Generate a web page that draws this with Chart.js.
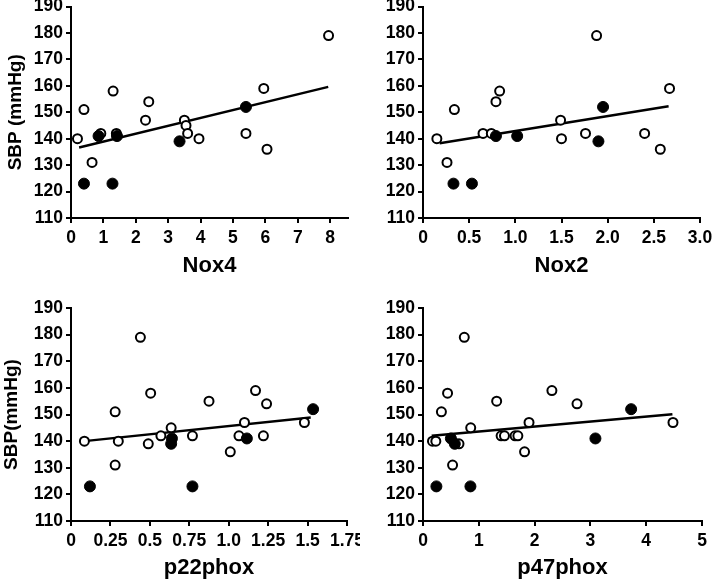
<!DOCTYPE html>
<html>
<head>
<meta charset="utf-8">
<script src="https://cdn.jsdelivr.net/npm/chart.js@4.4.1/dist/chart.umd.min.js"></script>
<style>
  html, body { margin: 0; padding: 0; background: #fff; }
  #wrap { position: relative; width: 714px; height: 583px; overflow: hidden; }
  canvas { position: absolute; }
</style>
</head>
<body>
<div id="wrap">
  <canvas id="nox4" width="360" height="290" style="left:0;top:0"></canvas>
  <canvas id="nox2" width="354" height="290" style="left:360px;top:0"></canvas>
  <canvas id="p22" width="360" height="293" style="left:0;top:290px"></canvas>
  <canvas id="p47" width="354" height="293" style="left:360px;top:290px"></canvas>
</div>
<script>
// SBP axis, shared by all four panels
const sbpTicks = [110, 120, 130, 140, 150, 160, 170, 180, 190]

// Nox4
const nox4Open = [[0.2,140],[0.4,151],[0.65,131],[0.92,142],[1.3,158],[1.4,142],[2.3,147],[2.4,154],
  [3.5,147],[3.55,145],[3.6,142],[3.95,140],[5.4,142],[5.95,159],[6.05,136],[7.95,179]]
const nox4Filled = [[0.4,123],[0.85,141],[1.28,123],[1.42,141],[3.35,139],[5.4,152]]
const nox4Fit = [[0.25,136.7],[7.94,159.6]]
const nox4Ticks = [0, 1, 2, 3, 4, 5, 6, 7, 8]
const nox4Labels = ['0', '1', '2', '3', '4', '5', '6', '7', '8']

// Nox2
const nox2Open = [[0.15,140],[0.26,131],[0.34,151],[0.65,142],[0.74,142],[0.79,154],[0.83,158],
  [1.49,147],[1.5,140],[1.76,142],[1.88,179],[2.4,142],[2.57,136],[2.67,159]]
const nox2Filled = [[0.33,123],[0.53,123],[0.79,141],[1.02,141],[1.9,139],[1.95,152]]
const nox2Fit = [[0.18,138.3],[2.66,152.3]]
const nox2Ticks = [0, 0.5, 1, 1.5, 2, 2.5, 3]
const nox2Labels = ['0', '0.5', '1.0', '1.5', '2.0', '2.5', '3.0']

// p22phox
const p22Open = [[0.085,140],[0.28,151],[0.28,131],[0.3,140],[0.44,179],[0.49,139],[0.505,158],
  [0.57,142],[0.635,145],[0.77,142],[0.875,155],[1.01,136],[1.065,142],[1.1,147],[1.17,159],
  [1.22,142],[1.24,154],[1.48,147]]
const p22Filled = [[0.12,123],[0.64,141],[0.635,139],[0.77,123],[1.115,141],[1.535,152]]
const p22Fit = [[0.085,140.0],[1.52,148.9]]
const p22Ticks = [0, 0.25, 0.5, 0.75, 1, 1.25, 1.5, 1.75]
const p22Labels = ['0', '0.25', '0.5', '0.75', '1.0', '1.25', '1.5', '1.75']

// p47phox
const p47Open = [[0.17,140],[0.23,140],[0.33,151],[0.44,158],[0.53,131],[0.645,139],[0.74,179],
  [0.855,145],[1.32,155],[1.4,142],[1.46,142],[1.65,142],[1.7,142],[1.82,136],[1.9,147],
  [2.31,159],[2.76,154],[4.48,147]]
const p47Filled = [[0.24,123],[0.5,141],[0.57,139],[0.85,123],[3.09,141],[3.73,152]]
const p47Fit = [[0.155,142.0],[4.47,150.1]]
const p47Ticks = [0, 1, 2, 3, 4, 5]
const p47Labels = ['0', '1', '2', '3', '4', '5']

const FONT = "'Liberation Sans', Arial, sans-serif"
const toPts = arr => arr.map(([x, y]) => ({ x, y }))

function makePanel(id, cfg) {
  const axisLine = { display: true, color: '#000', width: 2 }
  const tickGrid = { display: true, drawOnChartArea: false, drawTicks: true, tickLength: 5, color: '#000', lineWidth: 2 }
  const tickFont = { family: FONT, size: 17.5, weight: 'bold' }

  return new Chart(document.getElementById(id), {
    type: 'scatter',
    data: {
      datasets: [
        // filled dots sit on top, then open ones, fit line underneath
        {
          data: toPts(cfg.filled),
          pointRadius: 5.5, pointBackgroundColor: '#000', pointBorderColor: '#000', pointBorderWidth: 1
        },
        {
          data: toPts(cfg.open),
          pointRadius: 4.5, pointBackgroundColor: '#fff', pointBorderColor: '#000', pointBorderWidth: 2
        },
        {
          data: toPts(cfg.fit),
          showLine: true, pointRadius: 0, borderColor: '#000', borderWidth: 2.5
        }
      ]
    },
    options: {
      responsive: false,
      animation: false,
      layout: { padding: cfg.pad },
      plugins: { legend: { display: false }, tooltip: { enabled: false } },
      scales: {
        x: {
          type: 'linear',
          min: 0,
          max: cfg.xMax,
          border: axisLine,
          grid: tickGrid,
          afterBuildTicks: s => { s.ticks = cfg.xTicks.map(v => ({ value: v })) },
          ticks: {
            color: '#000', font: tickFont, padding: 5, maxRotation: 0, autoSkip: false,
            callback: (v) => cfg.xLabels[cfg.xTicks.indexOf(v)]
          },
          title: { display: true, text: cfg.xTitle, color: '#000', padding: 0,
                   font: { family: FONT, size: 22, weight: 'bold' } },
          afterFit: s => { s.height = cfg.xHeight; s.paddingLeft = 0; s.paddingRight = 0 }
        },
        y: {
          min: 110,
          max: 190,
          border: axisLine,
          grid: tickGrid,
          afterBuildTicks: s => { s.ticks = sbpTicks.map(v => ({ value: v })) },
          ticks: { color: '#000', font: tickFont, padding: 3 },
          title: { display: !!cfg.yTitle, text: cfg.yTitle, color: '#000', padding: { top: cfg.yTitlePad },
                   font: { family: FONT, size: 19, weight: 'bold' } },
          afterFit: s => { s.width = cfg.yWidth; s.paddingTop = 0; s.paddingBottom = 0 }
        }
      }
    }
  })
}

makePanel('nox4', {
  open: nox4Open, filled: nox4Filled, fit: nox4Fit, xTicks: nox4Ticks, xLabels: nox4Labels,
  xMax: 8.55, xTitle: 'Nox4', yTitle: 'SBP (mmHg)', yTitlePad: 4,
  yWidth: 71, xHeight: 61, pad: { top: 5, right: 12, bottom: 11, left: 0 }
})
makePanel('nox2', {
  open: nox2Open, filled: nox2Filled, fit: nox2Fit, xTicks: nox2Ticks, xLabels: nox2Labels,
  xMax: 3, xTitle: 'Nox2', yTitle: '',
  yWidth: 63, xHeight: 61, pad: { top: 5, right: 14, bottom: 11, left: 0 }
})
makePanel('p22', {
  open: p22Open, filled: p22Filled, fit: p22Fit, xTicks: p22Ticks, xLabels: p22Labels,
  xMax: 1.75, xTitle: 'p22phox', yTitle: 'SBP(mmHg)', yTitlePad: 0,
  yWidth: 71, xHeight: 60, pad: { top: 18, right: 13, bottom: 2, left: 0 }
})
makePanel('p47', {
  open: p47Open, filled: p47Filled, fit: p47Fit, xTicks: p47Ticks, xLabels: p47Labels,
  xMax: 5, xTitle: 'p47phox', yTitle: '',
  yWidth: 63, xHeight: 60, pad: { top: 18, right: 12, bottom: 2, left: 0 }
})
</script>
</body>
</html>
